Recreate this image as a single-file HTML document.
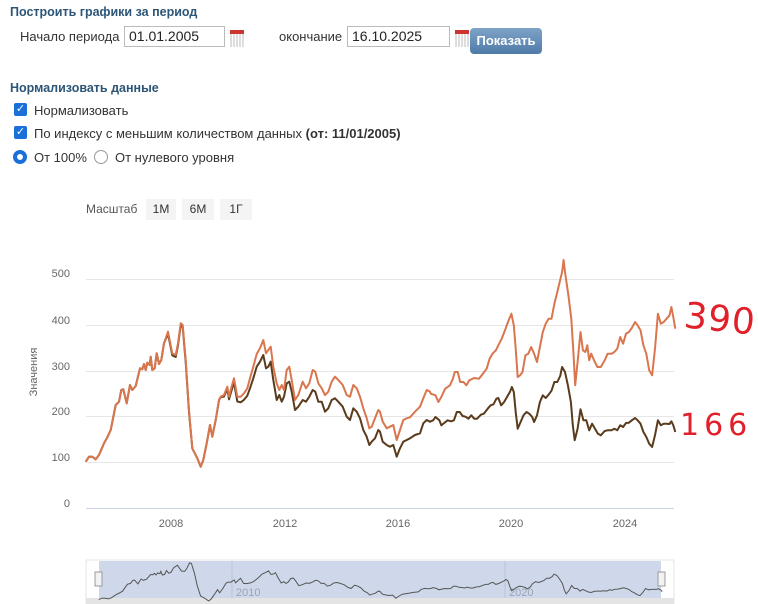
<!DOCTYPE html>
<html><head><meta charset="utf-8">
<style>
body{margin:0;width:758px;height:604px;overflow:hidden;background:#fff;font-family:"Liberation Sans","DejaVu Sans",sans-serif;font-size:13px;color:#333;position:relative}
.a{position:absolute;white-space:nowrap}
.h{font-weight:bold;color:#2c5577;font-size:12.5px}
.inp{position:absolute;height:21px;border:1px solid #bbb;box-sizing:border-box;font-size:14px;padding:1px 4px;color:#222;background:#fff}
.cal{position:absolute;width:14px;height:13px;background:repeating-linear-gradient(90deg,#ddd 0 2px,#fff 2px 3px);border-top:4px solid #c33}
.cb{position:absolute;width:13px;height:13px;background:#1a6fd8;border-radius:2px;color:#fff;font-size:11px;line-height:13px;text-align:center;font-weight:bold}
.btn{position:absolute;background:#f4f4f4;font-size:12px;color:#333;text-align:center;line-height:21px;height:21px}
</style></head><body>
<div class="a h" style="left:10px;top:5px">Построить графики за период</div>
<div class="a" style="left:20px;top:29px;font-size:13px">Начало периода</div>
<div class="inp" style="left:124px;top:26px;width:101px">01.01.2005</div>
<div class="cal" style="left:230px;top:30px"></div>
<div class="a" style="left:279px;top:29px">окончание</div>
<div class="inp" style="left:347px;top:26px;width:103px">16.10.2025</div>
<div class="cal" style="left:455px;top:30px"></div>
<div class="a" style="left:470px;top:28px;width:72px;height:26px;border-radius:4px;background:linear-gradient(#7fa3c8,#4f7ba8);color:#fff;font-weight:bold;font-size:13px;line-height:26px;text-align:center">Показать</div>
<div class="a h" style="left:10px;top:81px">Нормализовать данные</div>
<div class="cb" style="left:14px;top:103px">✓</div>
<div class="a" style="left:34px;top:103px">Нормализовать</div>
<div class="cb" style="left:14px;top:126px">✓</div>
<div class="a" style="left:34px;top:126px">По индексу с меньшим количеством данных <b>(от: 11/01/2005)</b></div>
<div class="a" style="left:13px;top:150px;width:14px;height:14px;border-radius:50%;border:4px solid #1a6fd8;box-sizing:border-box"></div>
<div class="a" style="left:34px;top:150px">От 100%</div>
<div class="a" style="left:94px;top:150px;width:14px;height:14px;border-radius:50%;border:1px solid #999;box-sizing:border-box"></div>
<div class="a" style="left:115px;top:150px">От нулевого уровня</div>
<div class="a" style="left:86px;top:202px;font-size:12px;color:#555">Масштаб</div>
<div class="btn" style="left:146px;top:199px;width:30px">1М</div>
<div class="btn" style="left:182px;top:199px;width:32px">6М</div>
<div class="btn" style="left:220px;top:199px;width:32px">1Г</div>
<svg class="a" style="left:0;top:0" width="758" height="604" id="s">
<g stroke="#e6e6e6" stroke-width="1">
<line x1="86" x2="674" y1="279.5" y2="279.5"/><line x1="86" x2="674" y1="325.5" y2="325.5"/>
<line x1="86" x2="674" y1="371.5" y2="371.5"/><line x1="86" x2="674" y1="416.5" y2="416.5"/>
<line x1="86" x2="674" y1="462.5" y2="462.5"/><line x1="86" x2="674" y1="508.5" y2="508.5" stroke="#ccd6eb"/>
</g>
<g font-size="11" fill="#666" text-anchor="end" font-family="Liberation Sans,sans-serif">
<text x="70" y="277">500</text><text x="70" y="324">400</text><text x="70" y="370">300</text>
<text x="70" y="415">200</text><text x="70" y="461">100</text><text x="70" y="507">0</text>
</g>
<g font-size="11" fill="#666" text-anchor="middle" font-family="Liberation Sans,sans-serif">
<text x="171" y="527">2008</text><text x="285" y="527">2012</text><text x="398" y="527">2016</text><text x="511" y="527">2020</text><text x="625" y="527">2024</text>
</g>
<text transform="translate(37,372) rotate(-90)" font-size="11" fill="#666" text-anchor="middle" font-family="Liberation Sans,sans-serif">Значения</text>
<rect x="86" y="560" width="588" height="44" fill="#fff" stroke="#e6e6e6"/>
<rect x="99" y="561" width="562" height="37" fill="#cfd8ea"/>
<line x1="232" x2="232" y1="561" y2="598" stroke="#b8c2d8"/><line x1="505" x2="505" y1="561" y2="598" stroke="#b8c2d8"/>
<text x="236" y="596" font-size="11" fill="#99a3b8" font-family="Liberation Sans,sans-serif">2010</text>
<text x="509" y="596" font-size="11" fill="#99a3b8" font-family="Liberation Sans,sans-serif">2020</text>
<rect x="86" y="598" width="588" height="6" fill="#e4e4e4"/>
<path id="nav" fill="none" stroke="#555" stroke-width="1"/>
<rect x="95" y="572" width="7" height="14" fill="#f2f2f2" stroke="#999"/>
<rect x="658" y="572" width="7" height="14" fill="#f2f2f2" stroke="#999"/>
<path id="pb" fill="none" stroke="#5a3b1c" stroke-width="2" stroke-linejoin="round"/>
<path id="po" fill="none" stroke="#d9764e" stroke-width="2" stroke-linejoin="round"/>
<text x="684" y="330" font-size="36" fill="#e0202a" font-family="DejaVu Sans,sans-serif" letter-spacing="1" transform="rotate(6 710 320)">390</text>
<text x="680" y="435" font-size="30" fill="#e0202a" font-family="DejaVu Sans,sans-serif" letter-spacing="5">166</text>
</svg>
<script>
var O=[890,465,900,470,906,490,912,475,920,450,930,440,936,420,940,400,946,400,951,430,958,430,964,440,970,425,980,418,990,420,998,405,1006,390,1012,360,1018,345,1025,335,1030,320,1037,300,1043,278,1050,250,1057,225,1062,260,1066,330,1070,415,1075,410,1080,400,1086,350,1092,345,1098,325,1104,345,1110,370,1116,325,1122,280,1128,255,1134,240,1140,240,1146,195,1152,160,1157,130,1162,100,1165,64,1168,100,1175,170,1181,240,1185,335,1189,440,1194,370,1200,280,1205,335,1210,340,1214,320,1218,365,1222,345,1228,365,1235,385,1242,385,1250,365,1256,345,1264,345,1270,340,1276,330,1282,295,1288,315,1294,285,1300,280,1306,268,1313,250,1318,260,1324,275,1330,320,1336,345,1342,395,1348,410,1354,330,1360,225,1366,255,1372,250,1378,240,1384,230,1388,205,1392,235,1396,270];
var B=[895,545,900,535,908,545,912,560,918,553,925,545,932,548,938,545,944,520,950,520,956,532,962,534,968,540,974,530,980,540,986,540,994,528,1000,525,1008,510,1014,500,1020,497,1026,480,1030,478,1036,500,1042,490,1048,475,1054,460,1058,445,1062,460,1066,520,1070,570,1076,550,1082,530,1088,520,1094,525,1100,535,1104,550,1110,530,1116,490,1122,470,1128,478,1134,468,1140,456,1146,430,1152,430,1158,412,1162,385,1168,400,1174,440,1180,490,1184,560,1188,605,1194,570,1200,512,1206,545,1212,545,1218,575,1224,555,1230,570,1236,585,1242,590,1250,577,1256,575,1264,575,1270,570,1276,575,1282,560,1288,565,1294,553,1300,552,1306,545,1313,538,1318,545,1324,555,1330,580,1336,595,1342,615,1348,625,1354,590,1360,545,1366,560,1372,555,1378,555,1384,556,1388,548,1392,560,1396,580];
var Z1=[5,455,15,440,25,440,35,448,45,435,60,400,70,382,80,360,95,285,105,275,112,240,118,238,128,280,138,225,145,240,155,228,168,175,175,178,180,162,185,180,190,158,197,165,200,140,205,180,212,175,218,130,225,162,232,150,240,100,252,65,258,95,265,130,275,135,282,100,290,40,296,45,305,150,315,300,325,415,340,445,350,470,358,450,368,400,378,345,385,380,395,330,405,270,410,260,420,255,430,230,435,260,440,240,450,205,460,260,470,260,480,250,490,235,495,225];
var Z2O=[0,145,10,110,20,72,30,55,40,30,48,70,55,60,62,50,70,110,80,160,88,180,95,165,102,180,110,120,118,110,125,150,135,210,145,195,158,155,168,175,178,160,188,120,196,125,205,160,215,175,225,195,235,185,245,155,255,140,265,150,278,165,290,195,300,200,310,165,320,175,330,200,340,235,350,265,358,295,365,290,375,265,385,240,390,245,398,275,410,295,420,290,430,285,440,330,450,300,460,270,470,265,480,262,495,245,510,230,520,205,530,180,540,185];
var Z2B=[0,175,10,145,20,110,30,95,40,75,48,115,55,110,62,95,70,150,80,210,88,195,95,215,102,200,110,160,118,155,125,185,135,240,145,230,158,210,168,215,178,200,188,180,196,185,205,215,215,215,225,245,235,235,245,210,255,205,265,215,278,230,290,260,300,270,310,235,320,245,330,265,340,300,350,320,358,345,365,335,375,325,385,300,390,305,398,335,410,345,420,350,430,345,440,380,450,355,460,335,470,330,480,325,495,315,510,310,520,280,530,270,540,275];
function conv(a,fx,fy,dy){var r=[];for(var i=0;i<a.length;i+=2){var x=fx(a[i]),y=fy(a[i+1]);r.push([x,y+(dy?dy(x):0)]);}return r;}
var big=[function(z){return 86+(z-177)*0.4834},function(z){return 508-(808-z)/3}];
var z1=[function(z){return 84+z/3},function(z){return 310+z/3}];
var z2=[function(z){return 250+z/3},function(z){return 330+z/3}];
var oE=conv(Z1,z1[0],z1[1]).filter(function(p){return p[0]<249});
var bE=conv(Z1,z1[0],z1[1],function(x){return x>218?(x-218)*0.25:(x>165&&x<190?2:0)}).filter(function(p){return p[0]<249});
var oP=oE.concat(conv(Z2O,z2[0],z2[1]),conv(O,big[0],big[1]));
var bP=bE.concat(conv(Z2B,z2[0],z2[1]),conv(B,big[0],big[1]));
function d(p){return p.map(function(q,i){return (i?'L':'M')+q[0].toFixed(1)+' '+q[1].toFixed(1)}).join('');}
document.getElementById('po').setAttribute('d',d(oP));
document.getElementById('pb').setAttribute('d',d(bP));
document.getElementById('nav').setAttribute('d',d(bP.map(function(q){return [99+(q[0]-86)*562/588,612-(508-q[1])/0.458*0.123]})));
</script>
</body></html>
